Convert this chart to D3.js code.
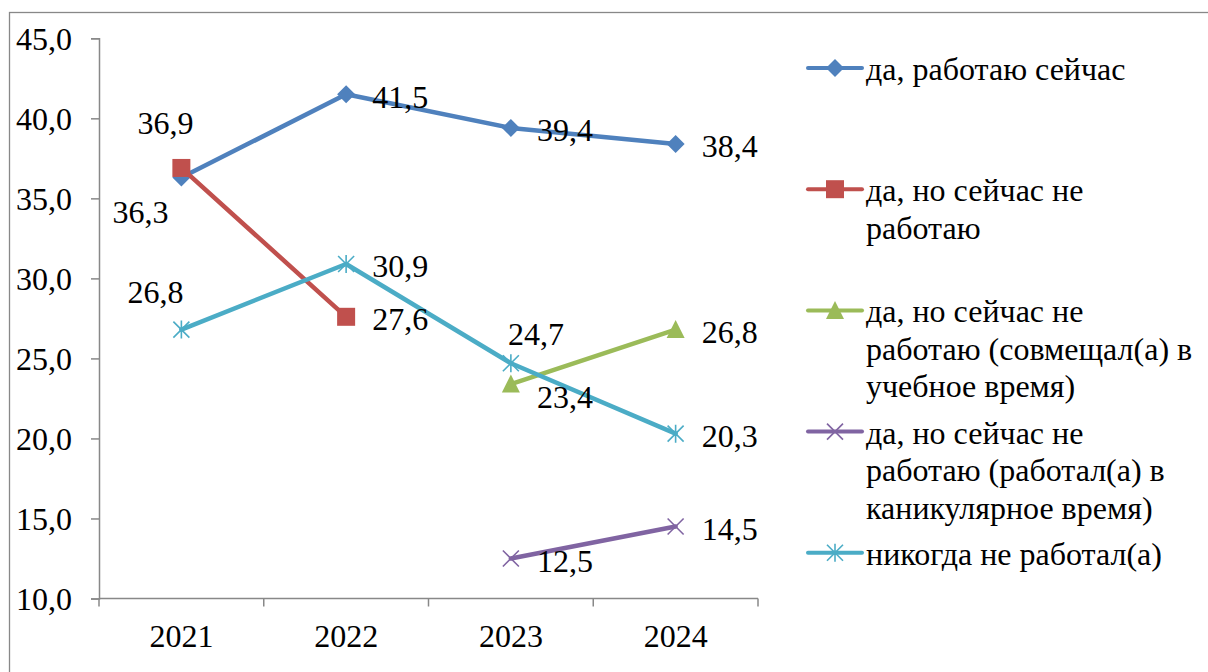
<!DOCTYPE html>
<html><head><meta charset="utf-8">
<script src="https://cdn.jsdelivr.net/npm/d3@7"></script>
<style>html,body{margin:0;padding:0;background:#fff;} svg{display:block;}</style>
</head><body>
<svg id="c" width="1208" height="672"></svg>
<script>
const categories = ["2021", "2022", "2023", "2024"];
const seriesNames = [
  "да, работаю сейчас",
  "да, но сейчас не работаю",
  "да, но сейчас не работаю (совмещал(а) в учебное время)",
  "да, но сейчас не работаю (работал(а) в каникулярное время)",
  "никогда не работал(а)"
];
const legendLines = [
  ["да, работаю сейчас"],
  ["да, но сейчас не", "работаю"],
  ["да, но сейчас не", "работаю (совмещал(а) в", "учебное время)"],
  ["да, но сейчас не", "работаю (работал(а) в", "каникулярное время)"],
  ["никогда не работал(а)"]
];
const valuesWorkingNow = [36.3, 41.5, 39.4, 38.4];
const valuesNotNow = [36.9, 27.6, null, null];
const valuesStudyTime = [null, null, 23.4, 26.8];
const valuesHolidays = [null, null, 12.5, 14.5];
const valuesNever = [26.8, 30.9, 24.7, 20.3];
const yTicks = [10, 15, 20, 25, 30, 35, 40, 45];
const seriesColors = ["#4F81BD", "#C0504D", "#9BBB59", "#8064A2", "#4BACC6"];
const seriesMarkers = ["diamond", "square", "triangle", "x", "star"];
// label placement per point (named placements, offsets defined in code)
const labelPlacement = [
  ["belowLeft", "right", "right", "right"],
  ["aboveLeft", "right", null, null],
  [null, null, "belowRight", "right"],
  [null, null, "right", "right"],
  ["aboveLeft2", "right", "above", "right"]
];

const allSeries = [valuesWorkingNow, valuesNotNow, valuesStudyTime, valuesHolidays, valuesNever];
const fmt = v => v.toFixed(1).replace(".", ",");
const FONT = '"Liberation Serif"';
const FS = "32px";
const styleText = sel => sel.style("font-family", FONT).style("font-size", FS).attr("fill", "#000");

const svg = d3.select("#c");
// outer frame
svg.append("rect").attr("x", 9.5).attr("y", 12.5).attr("width", 1400).attr("height", 900)
  .attr("fill", "none").attr("stroke", "#888").attr("stroke-width", 1.3);

const x = d3.scaleBand().domain(categories).range([99, 758]);
const y = d3.scaleLinear().domain([10, 45]).range([598.5, 38.3]);
const cx = c => x(c) + x.bandwidth() / 2;

// Y axis
const yAxis = d3.axisLeft(y).tickValues(yTicks).tickFormat(d => fmt(d)).tickSize(8).tickPadding(10);
const gy = svg.append("g").attr("transform", "translate(99,0)").call(yAxis);
gy.attr("font-family", null).attr("font-size", null);
gy.select(".domain").attr("stroke", "#888").attr("stroke-width", 1.5);
gy.selectAll(".tick line").attr("stroke", "#888").attr("stroke-width", 1.5);
gy.selectAll(".tick text").call(styleText).attr("x", -27).attr("dy", "0.35em");

// X axis
const gx = svg.append("g").attr("transform", "translate(0,598.5)");
gx.append("line").attr("x1", 99).attr("x2", 758).attr("y1", 0).attr("y2", 0).attr("stroke", "#888").attr("stroke-width", 1.5);
const boundaries = categories.map(c => x(c)).concat([x.range()[1]]);
gx.selectAll("line.tk").data(boundaries).join("line").attr("class", "tk")
  .attr("x1", d => d).attr("x2", d => d).attr("y1", 0).attr("y2", 8).attr("stroke", "#888").attr("stroke-width", 1.5);
gx.selectAll("text").data(categories).join("text")
  .attr("x", d => cx(d)).attr("y", 37).attr("dy", "0.35em").attr("text-anchor", "middle")
  .call(styleText).text(d => d);

function drawMarker(g, type, px, py, color) {
  if (type === "diamond") {
    const r = 9;
    g.append("path").attr("d", `M${px},${py - r}L${px + r},${py}L${px},${py + r}L${px - r},${py}Z`).attr("fill", color);
  } else if (type === "square") {
    const s = 18;
    g.append("rect").attr("x", px - s / 2).attr("y", py - s / 2).attr("width", s).attr("height", s).attr("fill", color);
  } else if (type === "triangle") {
    const w = 18, h = 17;
    g.append("path").attr("d", `M${px},${py - h / 2 - 1}L${px + w / 2},${py + h / 2}L${px - w / 2},${py + h / 2}Z`).attr("fill", color);
  } else if (type === "x") {
    const r = 8;
    g.append("path").attr("d", `M${px - r},${py - r}L${px + r},${py + r}M${px - r},${py + r}L${px + r},${py - r}`)
      .attr("stroke", color).attr("stroke-width", 1.6).attr("fill", "none");
  } else if (type === "star") {
    const r = 8;
    g.append("path").attr("d", `M${px - r},${py - r}L${px + r},${py + r}M${px - r},${py + r}L${px + r},${py - r}M${px},${py - r - 1}L${px},${py + r + 1}`)
      .attr("stroke", color).attr("stroke-width", 1.6).attr("fill", "none");
  }
}

const line = d3.line().defined(d => d.v != null).x(d => cx(d.c)).y(d => y(d.v));
const plot = svg.append("g");
allSeries.forEach((vals, i) => {
  const pts = vals.map((v, j) => ({ c: categories[j], v }));
  const g = plot.append("g");
  g.append("path").datum(pts).attr("d", line).attr("fill", "none").attr("stroke", seriesColors[i])
    .attr("stroke-width", 4.5).attr("stroke-linejoin", "round").attr("stroke-linecap", "round");
  pts.filter(p => p.v != null).forEach(p => drawMarker(g, seriesMarkers[i], cx(p.c), y(p.v), seriesColors[i]));
});

// data labels
const placements = {
  right: { dx: 26, dy: 2, anchor: "start" },
  belowLeft: { dx: -41, dy: 34, anchor: "middle" },
  aboveLeft: { dx: -16, dy: -45, anchor: "middle" },
  aboveLeft2: { dx: -26, dy: -38, anchor: "middle" },
  above: { dx: 25, dy: -29, anchor: "middle" },
  belowRight: { dx: 26, dy: 13, anchor: "start" }
};
const lbl = svg.append("g");
allSeries.forEach((vals, i) => {
  vals.forEach((v, j) => {
    if (v == null) return;
    const p = placements[labelPlacement[i][j]];
    lbl.append("text").attr("x", cx(categories[j]) + p.dx).attr("y", y(v) + p.dy).attr("dy", "0.35em")
      .attr("text-anchor", p.anchor).call(styleText).text(fmt(v));
  });
});

// legend
const lg = svg.append("g");
seriesNames.forEach((name, i) => {
  const ly = 68 + i * 121.2;
  const g = lg.append("g");
  g.append("line").attr("x1", 808).attr("x2", 862).attr("y1", ly).attr("y2", ly)
    .attr("stroke", seriesColors[i]).attr("stroke-width", 4).attr("stroke-linecap", "round");
  drawMarker(g, seriesMarkers[i], 835, ly, seriesColors[i]);
  const t = g.append("text").call(styleText);
  legendLines[i].forEach((ln, k) => {
    t.append("tspan").attr("x", 866).attr("y", ly + 12 + k * 37.5).text(ln);
  });
});
</script>
</body></html>
